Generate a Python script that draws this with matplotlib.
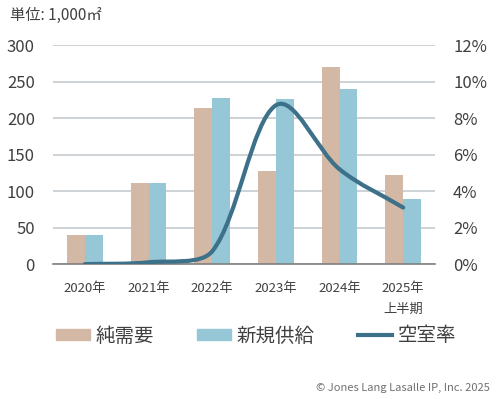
import matplotlib
matplotlib.use("Agg")
import matplotlib.pyplot as plt
from matplotlib.path import Path
from matplotlib.patches import PathPatch
from matplotlib.lines import Line2D
from matplotlib.patches import Patch
import numpy as np

plt.rcParams['font.family'] = ['Noto Sans CJK JP', 'DejaVu Sans']

years = ['2020年', '2021年', '2022年', '2023年', '2024年', '2025年\n上半期']
net_demand = [40, 111, 214, 127, 270, 122]
new_supply = [40, 111, 227, 226, 240, 89]
vacancy = [0.0, 0.1, 0.7, 8.7, 5.2, 3.1]

C_DEMAND = '#D3B8A6'
C_SUPPLY = '#95C7D7'
C_LINE = '#3C7189'
C_TEXT = '#404040'
C_GRID = '#C9CFD3'


def smooth_path(xs, ys, sx, sy):
    # Excel-like smoothed line as cubic bezier, control points scaled by segment length
    pts = np.column_stack([xs, ys]).astype(float)
    scale = np.array([sx, sy])
    n = len(pts)
    verts = [tuple(pts[0])]
    codes = [Path.MOVETO]

    def seglen(a, b):
        return np.sqrt(np.hypot(*((b - a) * scale)))

    for i in range(n - 1):
        p0 = pts[i - 1] if i > 0 else pts[i]
        p1, p2 = pts[i], pts[i + 1]
        p3 = pts[i + 2] if i + 2 < n else pts[i + 1]
        d_prev, d_cur = seglen(p0, p1), seglen(p1, p2)
        d_next = seglen(p2, p3)
        f1 = d_cur / (d_prev + d_cur) / 3 if i > 0 else 1 / 3
        f2 = d_cur / (d_cur + d_next) / 3 if i + 2 < n else 1 / 3
        t1 = p2 - p0
        t2 = p3 - p1
        # keep the curve from overshooting far below the lower end point
        low = min(p1[1], p2[1]) - 0.15
        if p2[1] - t2[1] * f2 < low and t2[1] > 0:
            f2 = (p2[1] - low) / t2[1]
        if p1[1] + t1[1] * f1 < low and t1[1] < 0:
            f1 = (p1[1] - low) / -t1[1]
        c1 = p1 + t1 * f1
        c2 = p2 - t2 * f2
        verts += [tuple(c1), tuple(c2), tuple(p2)]
        codes += [Path.CURVE4] * 3
    return Path(verts, codes)


fig = plt.figure(figsize=(5.0, 3.99), dpi=100)
ax = fig.add_axes([0.106, 0.338, 0.764, 0.549])
ax2 = ax.twinx()

x = np.arange(len(years))
w = 0.28
ax.bar(x - w / 2, net_demand, w, color=C_DEMAND, zorder=2)
ax.bar(x + w / 2, new_supply, w, color=C_SUPPLY, zorder=2)

ax.set_xlim(-0.5, len(years) - 0.5)
ax.set_ylim(0, 300)
ax.set_yticks(range(0, 301, 50))
ax.yaxis.grid(True, color=C_GRID, lw=1.3, zorder=0)
ax.set_axisbelow(True)
ax.set_xticks(x)
ax.set_xticklabels(years, fontsize=9.5, color=C_TEXT, linespacing=1.75)
ax.tick_params(axis='x', length=0, pad=13)
ax.tick_params(axis='y', length=0, pad=13, labelsize=12, labelcolor=C_TEXT)

ax2.set_ylim(0, 12)
ax2.set_yticks(range(0, 13, 2))
ax2.set_yticklabels([f'{v}%' for v in range(0, 13, 2)])
ax2.tick_params(axis='y', length=0, pad=13, labelsize=12, labelcolor=C_TEXT)

# px per unit: 64 per category, 18.25 per percent
path = smooth_path(x, vacancy, 64.0, 18.25)
ax2.add_patch(PathPatch(path, facecolor='none', edgecolor=C_LINE, lw=3.0,
                        capstyle='round', zorder=3))

for a in (ax, ax2):
    for s in ('top', 'left', 'right', 'bottom'):
        a.spines[s].set_visible(False)
ax.spines['bottom'].set_visible(True)
ax.spines['bottom'].set_color('#7F7F7F')
ax.spines['bottom'].set_linewidth(1.2)

fig.text(0.02, 0.962, '単位: 1,000㎡', fontsize=11, color=C_TEXT, va='center')

handles = [Patch(color=C_DEMAND), Patch(color=C_SUPPLY),
           Line2D([], [], color=C_LINE, lw=3.0)]
fig.legend(handles, ['純需要', '新規供給', '空室率'], loc='center',
           bbox_to_anchor=(0.512, 0.158), ncol=3, frameon=False,
           fontsize=14, handlelength=1.75, handleheight=0.55,
           handletextpad=0.3, columnspacing=2.2, labelcolor=C_TEXT)

fig.text(0.98, 0.028, '© Jones Lang Lasalle IP, Inc. 2025', fontsize=8,
         color='#707070', ha='right', va='center')

fig.savefig('out.png', dpi=100)
